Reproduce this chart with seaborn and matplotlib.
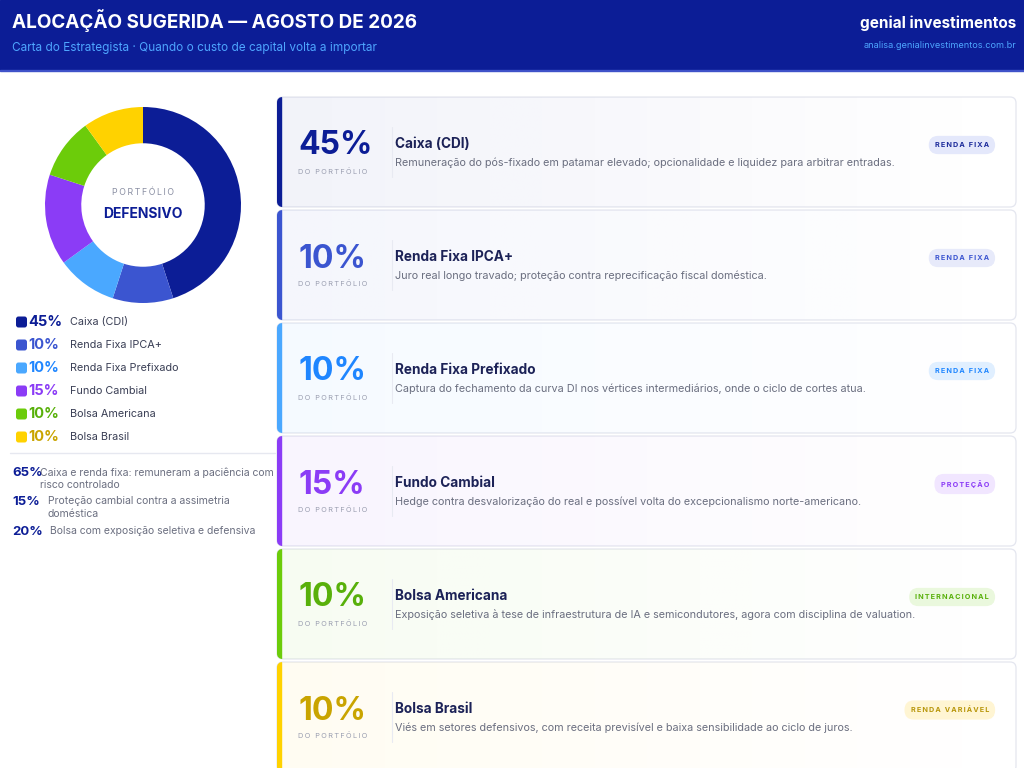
import matplotlib
matplotlib.use("Agg")
import matplotlib.pyplot as plt
import matplotlib.colors as mcolors
from matplotlib.patches import FancyBboxPatch, Rectangle
import seaborn as sns
import numpy as np

# Dados da alocação
categorias = ['Caixa (CDI)', 'Renda Fixa IPCA+', 'Renda Fixa Prefixado',
              'Fundo Cambial', 'Bolsa Americana', 'Bolsa Brasil']
pesos = [45, 10, 10, 15, 10, 10]
descricoes = [
    'Remuneração do pós-fixado em patamar elevado; opcionalidade e liquidez para arbitrar entradas.',
    'Juro real longo travado; proteção contra reprecificação fiscal doméstica.',
    'Captura do fechamento da curva DI nos vértices intermediários, onde o ciclo de cortes atua.',
    'Hedge contra desvalorização do real e possível volta do excepcionalismo norte-americano.',
    'Exposição seletiva à tese de infraestrutura de IA e semicondutores, agora com disciplina de valuation.',
    'Viés em setores defensivos, com receita previsível e baixa sensibilidade ao ciclo de juros.',
]
classes = ['RENDA FIXA', 'RENDA FIXA', 'RENDA FIXA', 'PROTEÇÃO', 'INTERNACIONAL', 'RENDA VARIÁVEL']
resumo_pct = [65, 15, 20]
resumo_txt = ['Caixa e renda fixa: remuneram a paciência com\nrisco controlado',
              'Proteção cambial contra a assimetria\ndoméstica',
              'Bolsa com exposição seletiva e defensiva']

titulo = 'ALOCAÇÃO SUGERIDA — AGOSTO DE 2026'
subtitulo = 'Carta do Estrategista · Quando o custo de capital volta a importar'

# Cores
cores = sns.color_palette(['#0c1d96', '#3b55d0', '#4aa8ff', '#8b3cf6', '#6ccc0a', '#ffd200'])
cores_txt = ['#0c1d96', '#3b55d0', '#1f86ff', '#8b3cf6', '#58b00a', '#c9a400']
badge_bg = ['#e4e8fb', '#e7eafa', '#e0efff', '#f1e6ff', '#eaf8dd', '#fff5d3']
badge_fg = ['#1b2a9a', '#3b55d0', '#1f86ff', '#8b3cf6', '#58b00a', '#b8960a']
navy = '#0c1d96'
escuro = '#1c2257'
cinza = '#6b6f80'

sns.set_theme(style="white")
plt.rcParams['font.family'] = ['Inter', 'DejaVu Sans']


def espaco(s):
    return '\u2009'.join(s)


fig = plt.figure(figsize=(10.24, 7.68), dpi=100)
fig.patch.set_facecolor('white')
ax = fig.add_axes([0, 0, 1, 1])
ax.set_xlim(0, 1024)
ax.set_ylim(768, 0)
ax.axis('off')

# Cabeçalho
ax.add_patch(Rectangle((0, 0), 1024, 70, color=navy, zorder=1))
ax.add_patch(Rectangle((0, 69.5), 1024, 1.5, color='#3f52c9', zorder=1))
ax.text(12, 21, titulo, color='white', fontsize=13.6, fontweight='bold', va='center', zorder=3)
ax.text(12, 48, subtitulo, color='#4ea6ff', fontsize=8.5, va='center', zorder=3)
ax.text(1016, 23, 'genial investimentos', color='white', fontsize=11, fontweight='bold',
        ha='right', va='center', zorder=3)
ax.text(1016, 45, 'analisa.genialinvestimentos.com.br', color='#4ea6ff', fontsize=6.6,
        ha='right', va='center', zorder=3)

# Donut
cx, cy, r = 143, 205, 98
ax_d = fig.add_axes([(cx - r) / 1024, 1 - (cy + r) / 768, 2 * r / 1024, 2 * r / 768])
ax_d.pie(pesos, colors=cores, startangle=90, counterclock=False, radius=1,
         wedgeprops=dict(width=0.37, linewidth=0))
ax_d.set_xlim(-1, 1)
ax_d.set_ylim(-1, 1)
ax_d.set_aspect('auto')
ax_d.axis('off')
ax_d.text(0, 0.13, espaco('PORTFÓLIO'), ha='center', va='center', fontsize=6.3, color='#8a8fa3')
ax_d.text(0, -0.09, 'DEFENSIVO', ha='center', va='center', fontsize=10, fontweight='bold', color=navy)

# Legenda
for i, (cat, p) in enumerate(zip(categorias, pesos)):
    y = 322 + i * 23
    ax.add_patch(FancyBboxPatch((16, y - 5.5), 11, 11, boxstyle='round,pad=0,rounding_size=2.5',
                                fc=cores[i], ec='none', zorder=3))
    ax.text(28, y, f'{p}%', color=cores_txt[i], fontsize=10.5, fontweight='bold', va='center', zorder=3)
    ax.text(70, y, cat, color='#3a3f55', fontsize=7.8, va='center', zorder=3)

ax.plot([10, 275], [453, 453], color='#e6e8f0', lw=1, zorder=2)

# Resumo
x_txt = [40, 48, 50]
y_res = [473, 502, 532]
for p, t, xt, y in zip(resumo_pct, resumo_txt, x_txt, y_res):
    ax.text(12, y, f'{p}%', color=navy, fontsize=9.5, fontweight='bold', va='center', zorder=3)
    ax.text(xt, y - 5.5, t, color=cinza, fontsize=7.5, va='top', linespacing=1.3, zorder=3)

# Cartões
x0, x1 = 277, 1016
alt, passo, topo = 110, 113, 97
for i, (cat, p, d, c) in enumerate(zip(categorias, pesos, descricoes, classes)):
    y0 = topo + i * passo
    card = FancyBboxPatch((x0, y0), x1 - x0, alt, boxstyle='round,pad=0,rounding_size=6',
                          fc='white', ec='#e4e6ef', lw=0.9, zorder=2)
    ax.add_patch(card)
    rgb = mcolors.to_rgb(cores[i])
    grad = np.zeros((1, 256, 4))
    grad[..., :3] = rgb
    grad[..., 3] = np.linspace(0.055, 0.0, 256)
    im = ax.imshow(grad, extent=[x0, x1, y0 + alt, y0], aspect='auto', zorder=2.1,
                   interpolation='bilinear')
    im.set_clip_path(card)
    barra = Rectangle((x0, y0), 4, alt, color=cores[i], zorder=2.5)
    ax.add_patch(barra)
    barra.set_clip_path(card)

    ax.text(298, y0 + 49, f'{p}%', color=cores_txt[i], fontsize=23, fontweight='bold',
            va='center', zorder=3)
    ax.text(298, y0 + 74, espaco('DO PORTFÓLIO'), color='#9a9eb0', fontsize=5.3,
            va='center', zorder=3)
    ax.plot([392, 392], [y0 + 30, y0 + 80], color='#e8eaf2', lw=0.8, zorder=3)
    ax.text(395, y0 + 47, cat, color=escuro, fontsize=9.8, fontweight='bold', va='center', zorder=3)
    ax.text(395, y0 + 66, d, color=cinza, fontsize=7.8, va='center', zorder=3)
    ax.text(989, y0 + 48, espaco(c), color=badge_fg[i], fontsize=5.2, fontweight='bold',
            ha='right', va='center', zorder=4,
            bbox=dict(boxstyle='round,pad=0.85,rounding_size=1.3', fc=badge_bg[i], ec='none'))

ax.set_xlim(0, 1024)
ax.set_ylim(768, 0)

fig.savefig('out.png', dpi=100, facecolor='white')
